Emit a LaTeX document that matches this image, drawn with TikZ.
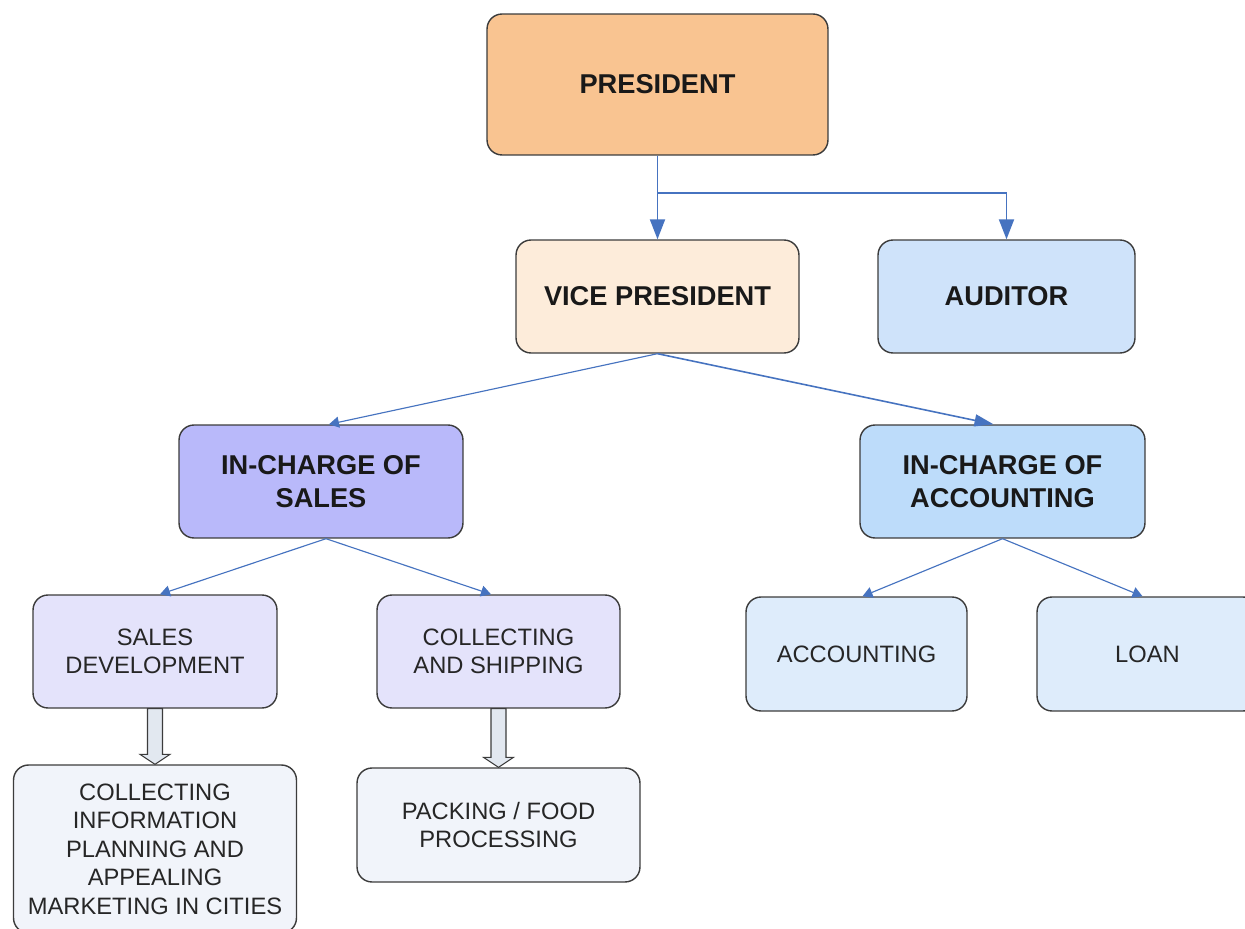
\documentclass[tikz,border=0pt]{standalone}
\usepackage{fontspec}
\setmainfont{Liberation Sans}
\usetikzlibrary{arrows.meta}

\begin{document}
\begin{tikzpicture}[x=0.02cm, y=-0.02cm,
    box/.style={draw=boxline, line width=0.8pt, rounded corners=0.3cm, inner sep=0pt, align=center},
    headtext/.style={font=\bfseries\fontsize{15.5}{18.7}\selectfont, text=black!90},
    subtext/.style={font=\fontsize{13.5}{16.2}\selectfont, text=black!85},
    link/.style={draw=linkblue, line width=0.65pt, -{Triangle[length=0.2cm,width=0.22cm]}},
    thicklink/.style={draw=linkblue, line width=1.1pt, -{Triangle[length=0.4cm,width=0.3cm]}},
    blockarrow/.style={draw=boxline, fill=arrowfill, line width=0.6pt}]
      % Define colors
      \definecolor{boxline}{RGB}{60, 60, 60}
      \definecolor{linkblue}{RGB}{70, 115, 192}
      \definecolor{presfill}{RGB}{249, 196, 145}
      \definecolor{vpfill}{RGB}{253, 236, 218}
      \definecolor{audfill}{RGB}{207, 227, 250}
      \definecolor{salesfill}{RGB}{185, 185, 250}
      \definecolor{accfill}{RGB}{189, 220, 250}
      \definecolor{subfill}{RGB}{228, 227, 251}
      \definecolor{accsubfill}{RGB}{222, 236, 251}
      \definecolor{lowfill}{RGB}{241, 244, 250}
      \definecolor{arrowfill}{RGB}{226, 232, 240}

      % Page frame
      \useasboundingbox (0,0) rectangle (1245,929);
      \fill[white] (0,0) rectangle (1245,929);

      % Top levels
      \node[box, headtext, fill=presfill, minimum width=6.82cm, minimum height=2.82cm] (pres) at (657.5,84.5) {PRESIDENT};
      \node[box, headtext, fill=vpfill, minimum width=5.66cm, minimum height=2.26cm] (vp) at (657.5,296.5) {VICE PRESIDENT};
      \node[box, headtext, fill=audfill, minimum width=5.14cm, minimum height=2.26cm] (aud) at (1006.5,296.5) {AUDITOR};

      % In-charge level
      \node[box, headtext, fill=salesfill, minimum width=5.68cm, minimum height=2.26cm] (sales) at (321,481.5) {IN-CHARGE OF\\SALES};
      \node[box, headtext, fill=accfill, minimum width=5.70cm, minimum height=2.26cm] (acc) at (1002.5,481.5) {IN-CHARGE OF\\ACCOUNTING};

      % Sections
      \node[box, subtext, fill=subfill, minimum width=4.88cm, minimum height=2.26cm] (sdev) at (155,651.5) {SALES\\DEVELOPMENT};
      \node[box, subtext, fill=subfill, minimum width=4.86cm, minimum height=2.26cm] (cship) at (498.5,651.5) {COLLECTING\\AND SHIPPING};
      \node[box, subtext, fill=accsubfill, minimum width=4.42cm, minimum height=2.28cm] (accsec) at (856.5,654) {ACCOUNTING};
      \node[box, subtext, fill=accsubfill, minimum width=4.42cm, minimum height=2.28cm] (loan) at (1147.5,654) {LOAN};

      % Lowest level
      \node[box, subtext, fill=lowfill, minimum width=5.66cm, minimum height=3.36cm] (info) at (155,849) {COLLECTING\\INFORMATION\\PLANNING AND\\APPEALING\\MARKETING IN CITIES};
      \node[box, subtext, fill=lowfill, minimum width=5.66cm, minimum height=2.28cm] (pack) at (498.5,825) {PACKING / FOOD\\PROCESSING};

      % President connectors
      \coordinate (split) at (657.5,193);
      \draw[thicklink] (pres.south) -- (vp.north);
      \draw[thicklink] (split) -| (aud.north);

      % Vice president connectors
      \draw[link] (vp.south) -- ([xshift=0.16cm]sales.north);
      \draw[thicklink, line width=0.9pt, -{Triangle[length=0.38cm,width=0.24cm]}] (vp.south) -- ([xshift=-0.18cm]acc.north);

      % In-charge connectors
      \draw[link] ([xshift=0.1cm]sales.south) -- ([xshift=0.1cm]sdev.north);
      \draw[link] ([xshift=0.1cm]sales.south) -- ([xshift=-0.15cm]cship.north);
      \draw[link] (acc.south) -- ([xshift=0.12cm]accsec.north);
      \draw[link] (acc.south) -- ([xshift=-0.1cm]loan.north);

      % Block arrows
      \draw[blockarrow] ([xshift=-0.15cm]sdev.south) -- ([xshift=-0.15cm,yshift=0.2cm]info.north)
        -- ([xshift=-0.3cm,yshift=0.2cm]info.north) -- (info.north)
        -- ([xshift=0.3cm,yshift=0.2cm]info.north) -- ([xshift=0.15cm,yshift=0.2cm]info.north)
        -- ([xshift=0.15cm]sdev.south) -- cycle;
      \draw[blockarrow] ([xshift=-0.15cm]cship.south) -- ([xshift=-0.15cm,yshift=0.2cm]pack.north)
        -- ([xshift=-0.3cm,yshift=0.2cm]pack.north) -- (pack.north)
        -- ([xshift=0.3cm,yshift=0.2cm]pack.north) -- ([xshift=0.15cm,yshift=0.2cm]pack.north)
        -- ([xshift=0.15cm]cship.south) -- cycle;

\end{tikzpicture}
\end{document}
